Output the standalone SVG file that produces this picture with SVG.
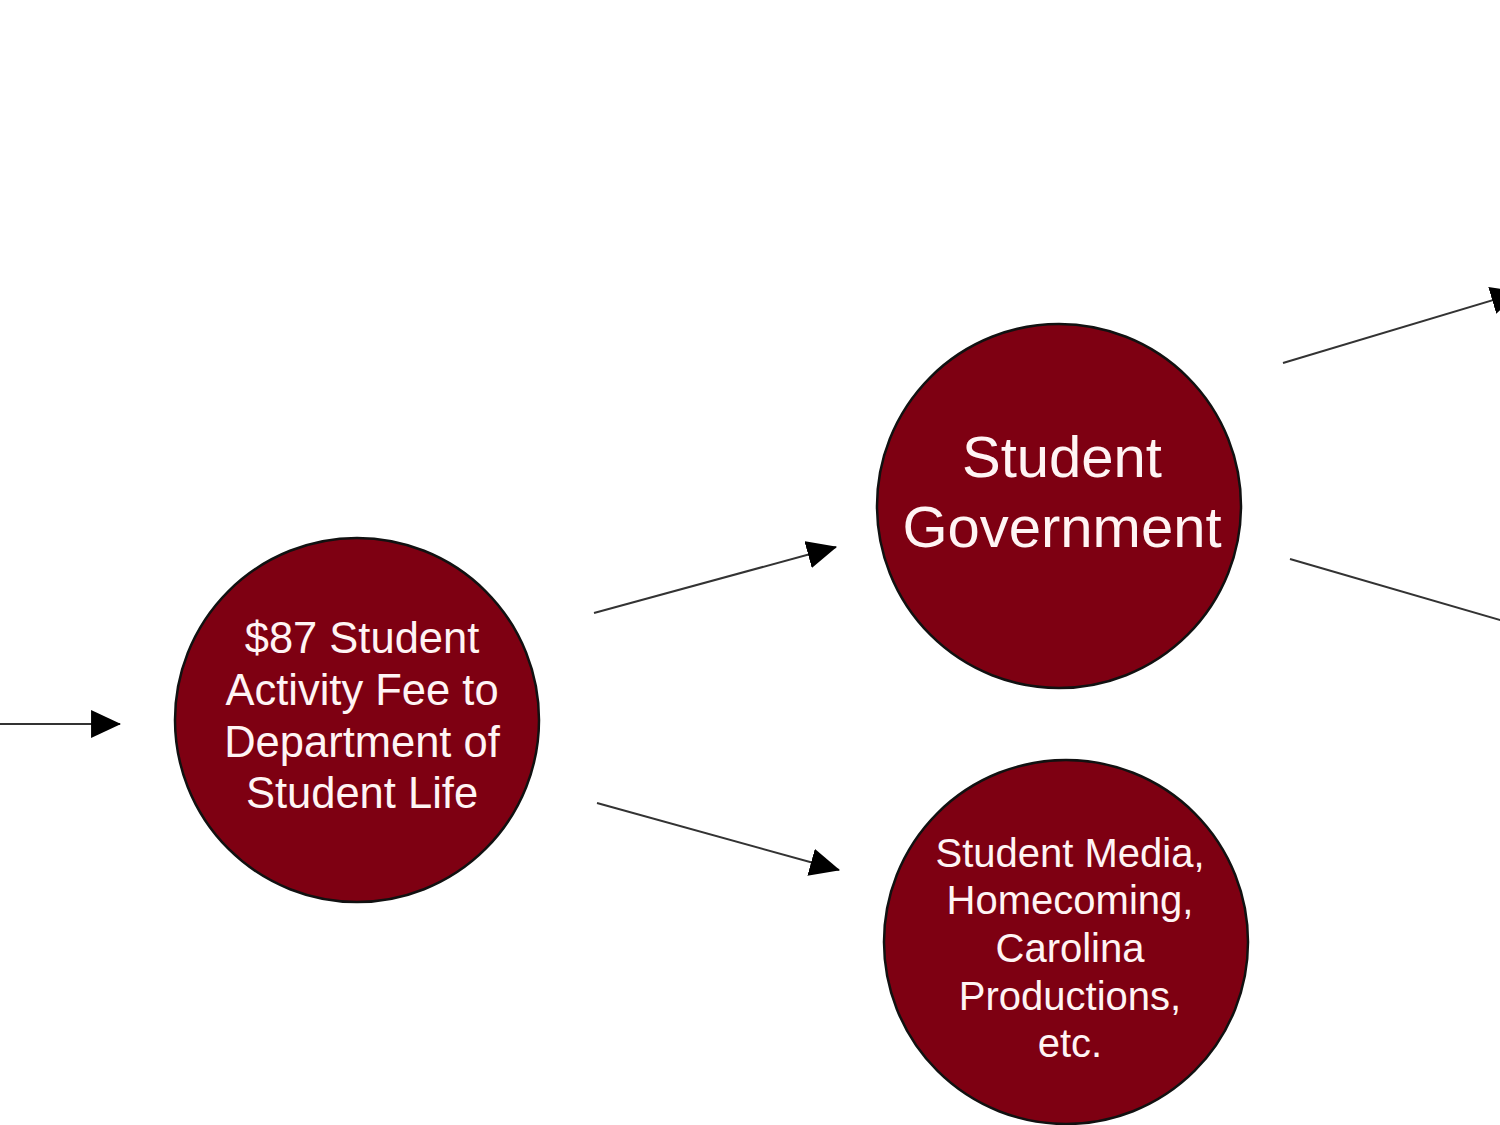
<svg xmlns="http://www.w3.org/2000/svg" width="1500" height="1125" viewBox="0 0 1500 1125">
<defs>
<marker id="ah" markerUnits="userSpaceOnUse" markerWidth="30" markerHeight="28" viewBox="0 0 28 26" refX="27" refY="13" orient="auto">
<path d="M0,0 L28,13 L0,26 Z" fill="#000"/>
</marker>
<style>
.node{fill:#7e0012;stroke:#111;stroke-width:2.5}
.lbl{fill:#fff4f4;font-family:"Liberation Sans",Arial,Helvetica,sans-serif;text-anchor:middle}
.conn{stroke:#333;stroke-width:2;fill:none;marker-end:url(#ah)}
</style>
</defs>
<rect width="1500" height="1125" fill="#fff"/>
<g id="connectors">
<line class="conn" x1="0" y1="724" x2="120" y2="724"/>
<line class="conn" x1="594" y1="613" x2="836" y2="547"/>
<line class="conn" x1="597" y1="803" x2="839" y2="870"/>
<line class="conn" x1="1283" y1="363" x2="1520" y2="292"/>
<line class="conn" x1="1290" y1="559" x2="1545" y2="633"/>
</g>
<g id="fee">
<circle class="node" cx="357" cy="720" r="182"/>
<text class="lbl" font-size="43.5"><tspan x="362" y="653">$87 Student</tspan><tspan x="362" y="705">Activity Fee to</tspan><tspan x="362" y="757">Department of</tspan><tspan x="362" y="808">Student Life</tspan></text>
</g>
<g id="student-government">
<circle class="node" cx="1059" cy="506" r="182"/>
<text class="lbl" font-size="58"><tspan x="1062" y="477">Student</tspan><tspan x="1062" y="547">Government</tspan></text>
</g>
<g id="others">
<circle class="node" cx="1066" cy="942" r="182"/>
<text class="lbl" font-size="40"><tspan x="1070" y="867">Student Media,</tspan><tspan x="1070" y="914">Homecoming,</tspan><tspan x="1070" y="962">Carolina</tspan><tspan x="1070" y="1010">Productions,</tspan><tspan x="1070" y="1057">etc.</tspan></text>
</g>
</svg>
